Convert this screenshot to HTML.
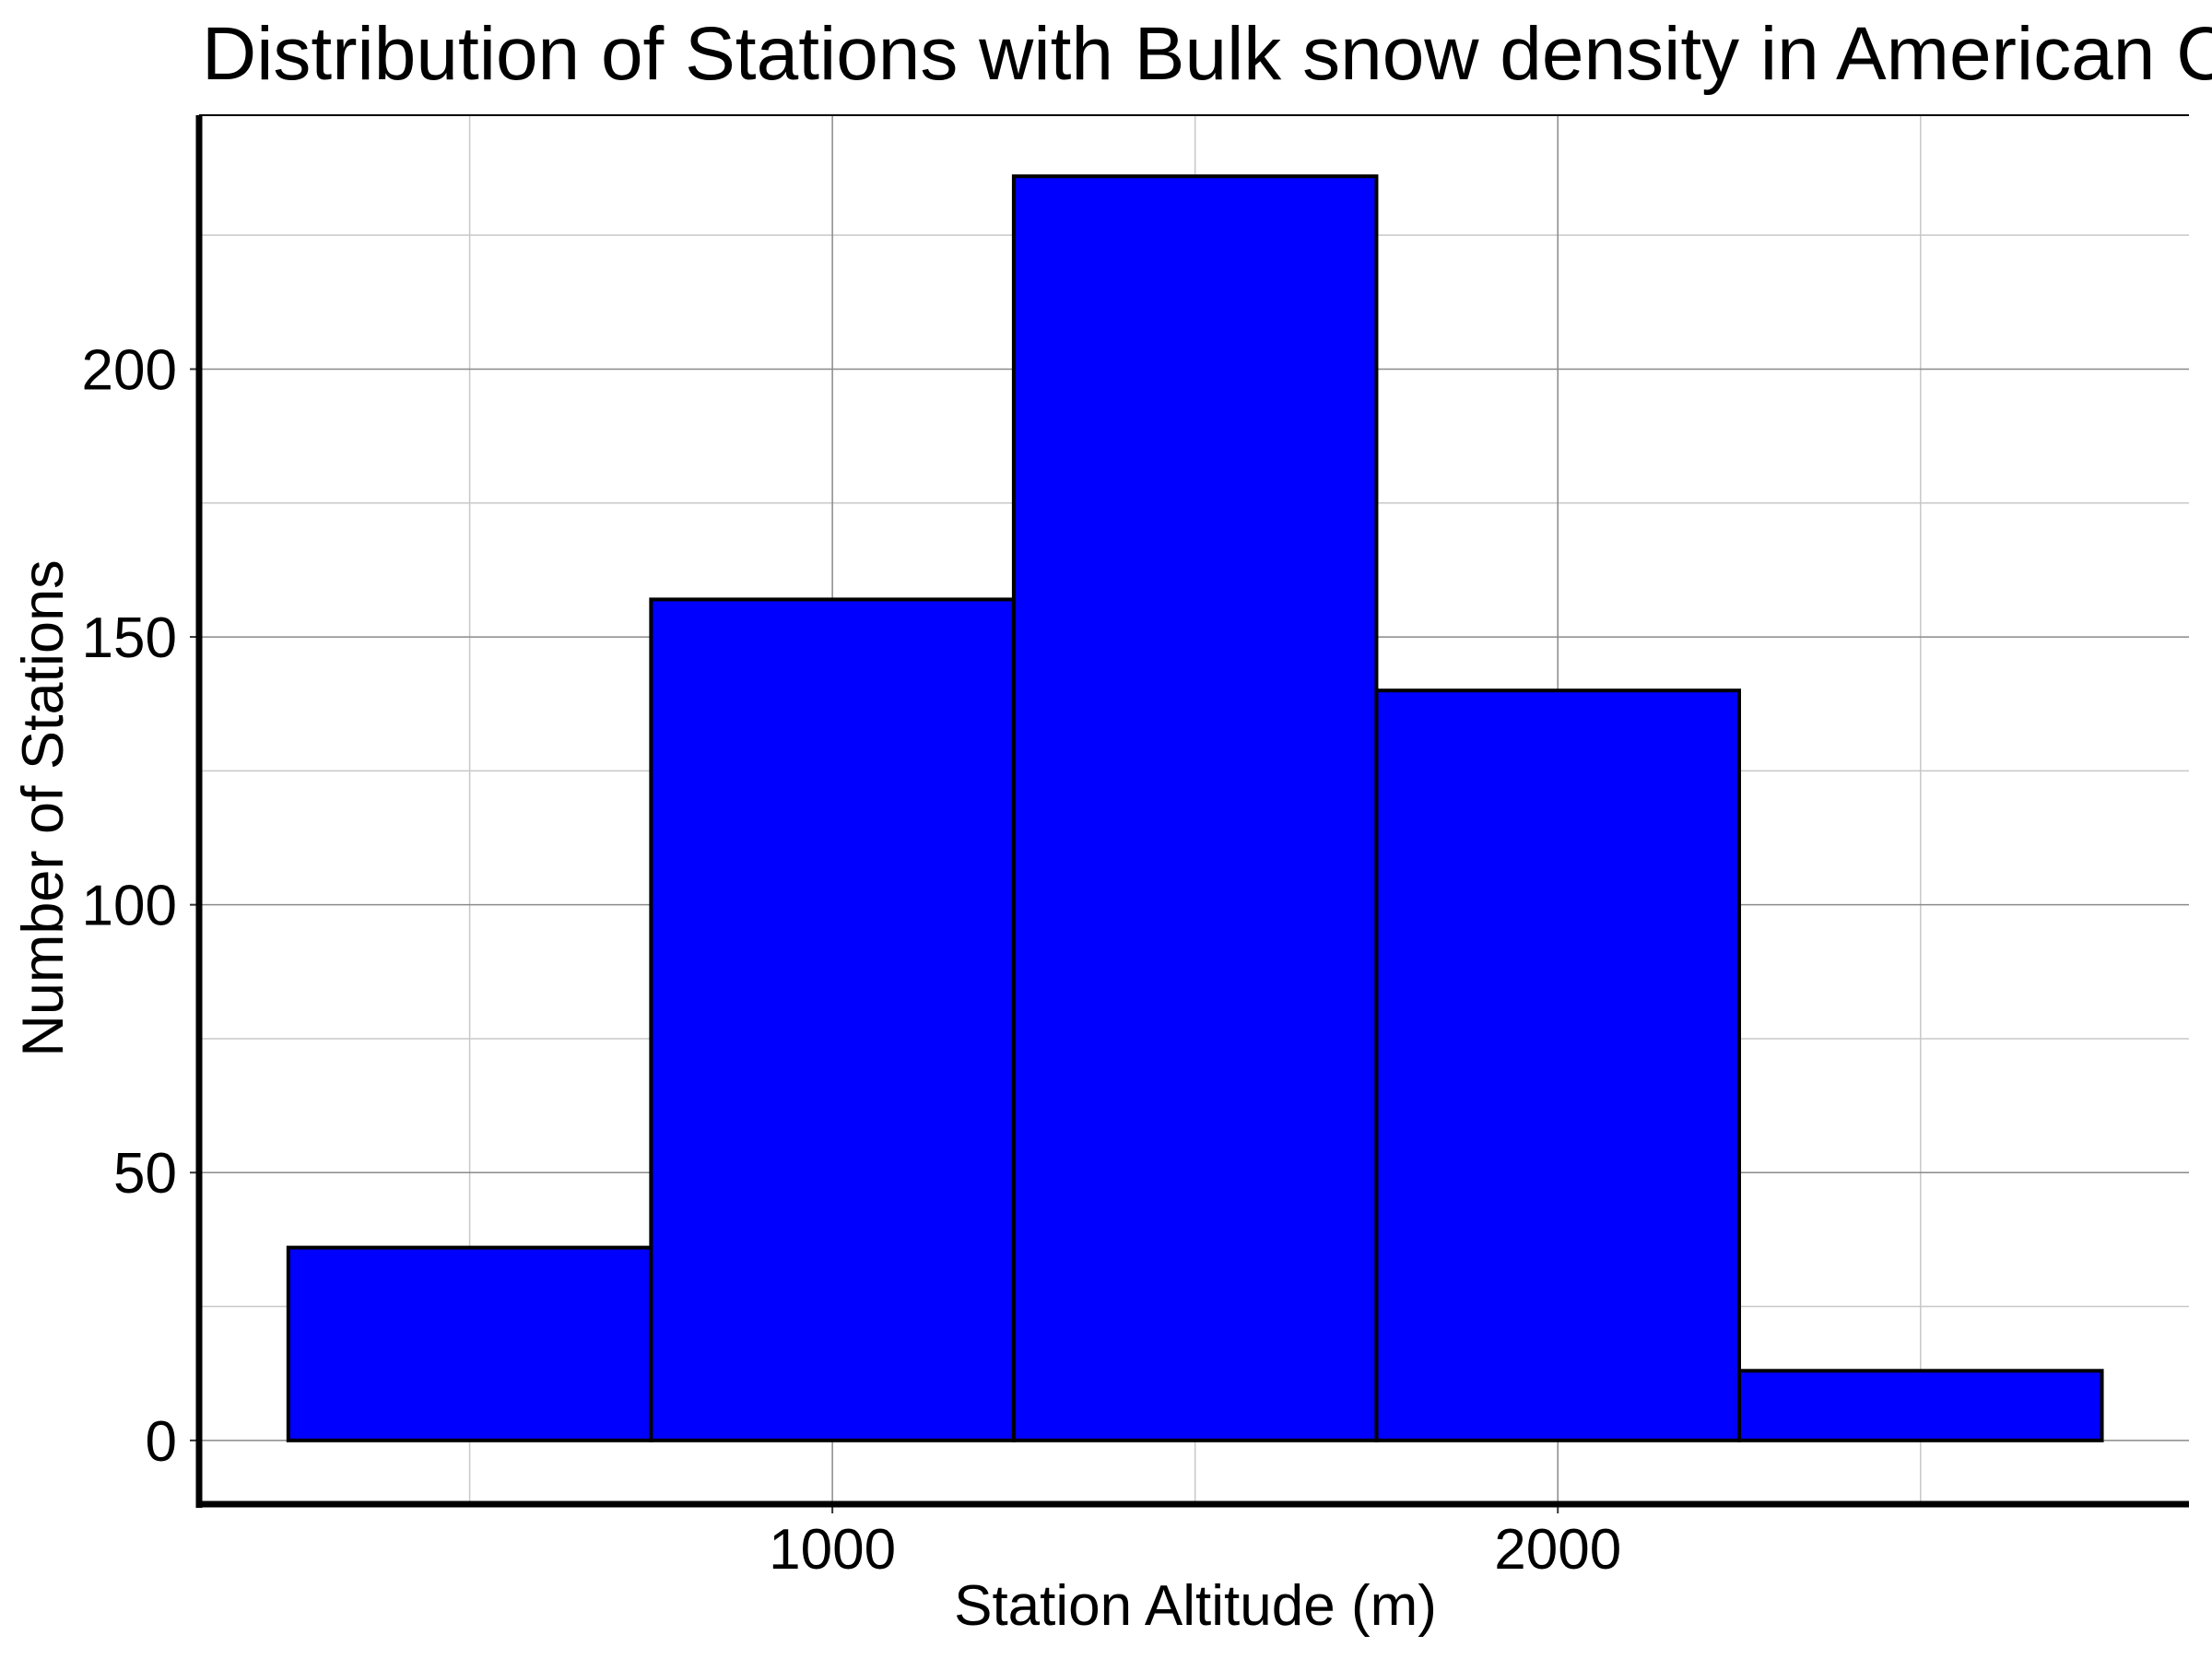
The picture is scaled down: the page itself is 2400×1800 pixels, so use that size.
<!DOCTYPE html>
<html><head><meta charset="utf-8"><style>
html,body{margin:0;padding:0;background:#fff;}
svg{display:block;font-family:"Liberation Sans",sans-serif;}
</style></head><body>
<svg id="chart" width="2400" height="1800" viewBox="0 0 2400 1800">
<text x="219" y="86" font-size="82" fill="#000">Distribution of Stations with Bulk snow density in American C</text>
<g id="grid"></g><g id="bars"></g><g id="axes"></g>
<text x="1297" y="1763" font-size="62" text-anchor="middle">Station Altitude (m)</text>
<text transform="translate(68,877) rotate(-90)" font-size="63" text-anchor="middle">Number of Stations</text>
</svg>
<script>
const binEdges=[250,750,1250,1750,2250,2750];
const counts=[36,157,236,140,13];
const yTicks=[0,50,100,150,200];
const yMinor=[25,75,125,175,225];
const xTicks=[1000,2000];
const xMinor=[500,1500,2500];
const PL=216,PR=2375,PT=125,PB=1632;
const xMin=127,xMax=2870,yMin=-11.9,yMax=247.4;
const sx=v=>PL+(v-xMin)/(xMax-xMin)*(PR-PL);
const sy=v=>PB-(v-yMin)/(yMax-yMin)*(PB-PT);
const NS='http://www.w3.org/2000/svg';
function mk(tag,attrs,parent){const e=document.createElementNS(NS,tag);for(const k in attrs)e.setAttribute(k,attrs[k]);parent.appendChild(e);return e;}
const gridG=document.getElementById('grid'),barsG=document.getElementById('bars'),axesG=document.getElementById('axes');
yMinor.forEach(v=>{const l=mk('line',{x1:PL,x2:PR,y1:sy(v),y2:sy(v),stroke:'#c8c8c8','stroke-width':1.5},gridG);

});
xMinor.forEach(v=>{const l=mk('line',{x1:sx(v),x2:sx(v),y1:PT,y2:PB,stroke:'#c8c8c8','stroke-width':1.5},gridG);

});
yTicks.forEach(v=>{const l=mk('line',{x1:PL,x2:PR,y1:sy(v),y2:sy(v),stroke:'#8a8a8a','stroke-width':1.5},gridG);


const t=mk('line',{x1:PL-10,x2:PL,y1:sy(v),y2:sy(v),stroke:'#333','stroke-width':2},axesG);


const tx=mk('text',{x:PL-24,y:sy(v)+22,'font-size':62,'text-anchor':'end'},axesG);tx.textContent=v;

});
xTicks.forEach(v=>{const l=mk('line',{x1:sx(v),x2:sx(v),y1:PT,y2:PB,stroke:'#8a8a8a','stroke-width':1.5},gridG);


const t=mk('line',{x1:sx(v),x2:sx(v),y1:PB,y2:PB+10,stroke:'#333','stroke-width':2},axesG);


const tx=mk('text',{x:sx(v),y:1702,'font-size':62,'text-anchor':'middle'},axesG);tx.textContent=v;

});
counts.forEach((c,i)=>{const x0=sx(binEdges[i]),x1=sx(binEdges[i+1]);
const r=mk('rect',{x:x0,y:sy(c),width:x1-x0,height:sy(0)-sy(c),fill:'#0000ff',stroke:'#000','stroke-width':4},barsG);

});
const topBorder=mk('line',{x1:PL,x2:PR,y1:PT,y2:PT,stroke:'#000','stroke-width':2},axesG);


const yAxisLine=mk('line',{x1:PL,x2:PL,y1:PT,y2:PB+4,stroke:'#000','stroke-width':7},axesG);


const xAxisLine=mk('line',{x1:PL+3,x2:PR,y1:PB,y2:PB,stroke:'#000','stroke-width':7},axesG);


</script>
</body></html>
